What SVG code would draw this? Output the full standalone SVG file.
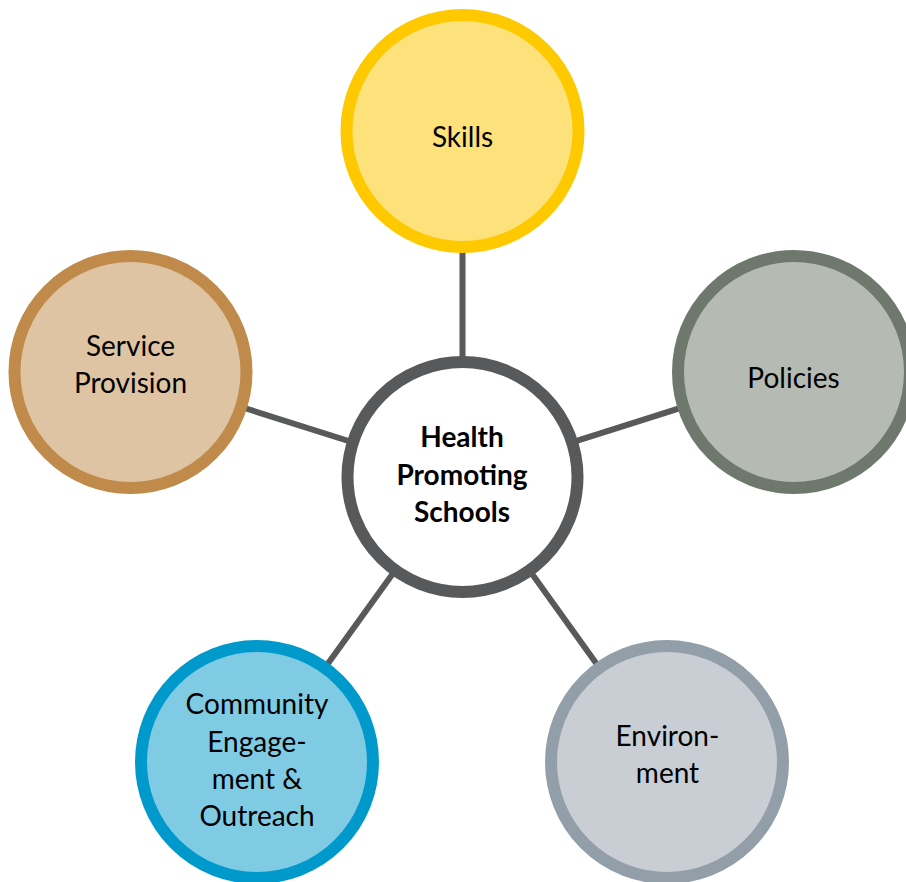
<svg xmlns="http://www.w3.org/2000/svg" width="906" height="882" viewBox="0 0 906 882">
  <style>
    .link { stroke: #58595B; stroke-width: 6; fill: none; }
    .ring { stroke-width: 12; }
    .label { font-family: Lato, "Open Sans", "Liberation Sans", sans-serif; font-size: 28px; fill: #000; text-anchor: middle; }
    .hub { font-weight: bold; }
  </style>
  <rect width="906" height="882" fill="#FFFFFF"/>

  <!-- spokes from the hub to each satellite -->
  <g id="connectors">
    <line class="link" x1="462.5" y1="477" x2="462.5" y2="131"/>
    <line class="link" x1="462.5" y1="477" x2="794" y2="372"/>
    <line class="link" x1="462.5" y1="477" x2="130.5" y2="372"/>
    <line class="link" x1="462.5" y1="477" x2="257" y2="762"/>
    <line class="link" x1="462.5" y1="477" x2="667" y2="762"/>
  </g>

  <g id="skills">
    <circle class="ring" cx="462.5" cy="131" r="116" fill="#FDE27C" stroke="#FFC900"/>
    <text class="label" x="462.5" y="147">Skills</text>
  </g>

  <g id="policies">
    <circle class="ring" cx="794" cy="372" r="116" fill="#B5BAB2" stroke="#6E786D"/>
    <text class="label" x="793.5" y="388">Policies</text>
  </g>

  <g id="service-provision">
    <circle class="ring" cx="130.5" cy="372" r="116" fill="#DFC4A3" stroke="#BF8A4A"/>
    <text class="label" x="130.5" y="356">Service</text>
    <text class="label" x="130.5" y="393">Provision</text>
  </g>

  <g id="community">
    <circle class="ring" cx="257" cy="762" r="116" fill="#7FCBE4" stroke="#0099CC"/>
    <text class="label" x="257" y="714">Community</text>
    <text class="label" x="257" y="752">Engage-</text>
    <text class="label" x="257" y="789">ment &amp;</text>
    <text class="label" x="257" y="826">Outreach</text>
  </g>

  <g id="environment">
    <circle class="ring" cx="667" cy="762" r="116" fill="#C9CED5" stroke="#929EA8"/>
    <text class="label" x="667.5" y="746">Environ-</text>
    <text class="label" x="667.5" y="783">ment</text>
  </g>

  <g id="health-promoting-schools">
    <circle class="ring" cx="462.5" cy="477" r="115" fill="#FFFFFF" stroke="#58595B"/>
    <text class="label hub" x="462" y="447">Health</text>
    <text class="label hub" x="462" y="485">Promoting</text>
    <text class="label hub" x="462" y="522">Schools</text>
  </g>
</svg>
